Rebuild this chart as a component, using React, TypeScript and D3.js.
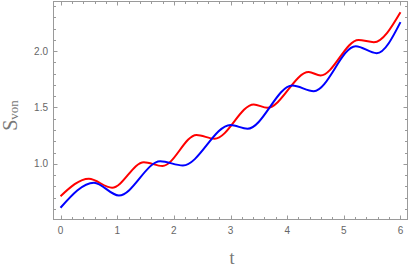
import React, { useEffect, useRef } from 'react';
import * as d3 from 'd3';

// key points (t, S_von)
const redT = [0, 0.5, 0.91, 1.47, 1.8, 2.4, 2.72, 3.41, 3.65, 4.38, 4.59, 5.26, 5.53, 6.0];
const redS = [0.712, 0.867, 0.787, 1.014, 0.98, 1.256, 1.222, 1.527, 1.497, 1.814, 1.784, 2.1, 2.08, 2.346];

const blueT = [0, 0.59, 1.03, 1.76, 2.16, 3.0, 3.3, 4.09, 4.47, 5.21, 5.58, 6.0];
const blueS = [0.609, 0.831, 0.718, 1.022, 0.985, 1.344, 1.311, 1.695, 1.645, 2.044, 1.982, 2.258];

const xMajor = [0, 1, 2, 3, 4, 5, 6];
const yMajor = [1.0, 1.5, 2.0];

const W = 409;
const H = 273;
const frameColor = '#9a9a9a';
const labelColor = '#666666';

const App = () => {
  const ref = useRef<SVGSVGElement | null>(null);

  useEffect(() => {
    if (!ref.current) return;
    const svg = d3.select(ref.current);
    svg.selectAll('*').remove();

    const left = 53.5;
    const right = 407.5;
    const top = 1.5;
    const bottom = 219.5;

    const x = d3.scaleLinear().domain([-0.124, 6.124]).range([left, right]);
    const y = d3.scaleLinear().domain([0.505, 2.441]).range([bottom, top]);

    const xMinor = d3.range(0.2, 6, 0.2).filter((v) => Math.abs(v - Math.round(v)) > 0.01);
    const yMinor = d3.range(0.6, 2.45, 0.1).filter((v) => Math.abs(v * 2 - Math.round(v * 2)) > 0.01);

    const g = svg.append('g');

    // ticks on all four sides, pointing inward
    const ticks = g.append('g').attr('stroke', frameColor).attr('stroke-width', 1);
    const addX = (vals: number[], len: number) => {
      vals.forEach((v) => {
        const px = Math.round(x(v)) + 0.5;
        ticks.append('line').attr('x1', px).attr('x2', px).attr('y1', bottom).attr('y2', bottom - len);
        ticks.append('line').attr('x1', px).attr('x2', px).attr('y1', top).attr('y2', top + len);
      });
    };
    const addY = (vals: number[], len: number) => {
      vals.forEach((v) => {
        const py = Math.round(y(v)) + 0.5;
        ticks.append('line').attr('y1', py).attr('y2', py).attr('x1', left).attr('x2', left + len);
        ticks.append('line').attr('y1', py).attr('y2', py).attr('x1', right).attr('x2', right - len);
      });
    };
    addX(xMajor, 4);
    addX(xMinor, 2.5);
    addY(yMajor, 4);
    addY(yMinor, 2.5);

    g.append('rect')
      .attr('x', left)
      .attr('y', top)
      .attr('width', right - left)
      .attr('height', bottom - top)
      .attr('fill', 'none')
      .attr('stroke', frameColor)
      .attr('stroke-width', 1);

    // tick labels
    g.append('g')
      .selectAll('text')
      .data(xMajor)
      .join('text')
      .attr('x', (d) => x(d))
      .attr('y', 234)
      .attr('text-anchor', 'middle')
      .style('font-family', 'Liberation Sans, Arial, sans-serif')
      .style('font-size', '10px')
      .style('fill', labelColor)
      .text((d) => d3.format('d')(d));

    g.append('g')
      .selectAll('text')
      .data(yMajor)
      .join('text')
      .attr('x', 48)
      .attr('y', (d) => y(d) + 3.5)
      .attr('text-anchor', 'end')
      .style('font-family', 'Liberation Sans, Arial, sans-serif')
      .style('font-size', '10px')
      .style('fill', labelColor)
      .text((d) => d3.format('.1f')(d));

    // curves
    const line = d3
      .line<[number, number]>()
      .x((d) => x(d[0]))
      .y((d) => y(d[1]))
      .curve(d3.curveMonotoneX);

    const series = [
      { t: redT, s: redS, color: '#ff0000' },
      { t: blueT, s: blueS, color: '#0000ff' },
    ];
    series.forEach((sr) => {
      const pts = sr.t.map((t, i) => [t, sr.s[i]] as [number, number]);
      g.append('path')
        .attr('d', line(pts))
        .attr('fill', 'none')
        .attr('stroke', sr.color)
        .attr('stroke-width', 2);
    });

    // axis labels
    g.append('text')
      .attr('x', 232)
      .attr('y', 264)
      .attr('text-anchor', 'middle')
      .style('font-family', 'Liberation Serif, Times New Roman, serif')
      .style('font-size', '18px')
      .style('fill', '#777777')
      .text('t');

    const yl = g
      .append('text')
      .attr('transform', 'translate(16.5,115.5) rotate(-90)')
      .attr('text-anchor', 'middle')
      .style('font-family', 'Liberation Serif, Times New Roman, serif')
      .style('fill', '#777777');
    yl.append('tspan').style('font-size', '20px').text('S');
    yl.append('tspan').style('font-size', '13px').attr('dy', 1.5).text('von');
  }, []);

  return (
    <div style={{ position: 'absolute', left: 0, top: 0, width: W, height: H, background: '#fff' }}>
      <svg ref={ref} width={W} height={H} />
    </div>
  );
};

export default App;
